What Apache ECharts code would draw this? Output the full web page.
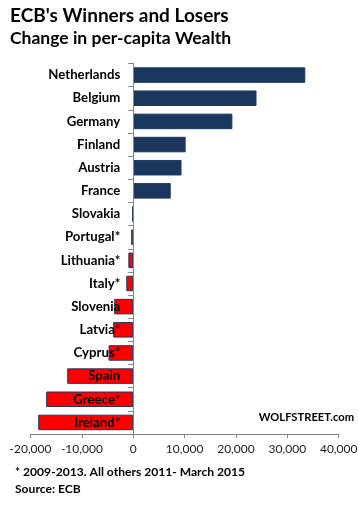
<!DOCTYPE html>
<html><head><meta charset="utf-8">
<script src="https://cdn.jsdelivr.net/npm/echarts@6/dist/echarts.min.js"></script>
<style>html,body{margin:0;padding:0;background:#fff}#c{width:359px;height:505px}</style>
</head><body><div id="c"></div>
<script>
const categories = ['Netherlands','Belgium','Germany','Finland','Austria','France','Slovakia','Portugal*','Lithuania*','Italy*','Slovenia','Latvia*','Cyprus*','Spain','Greece*','Ireland*'];
const values = [33500, 24000, 19300, 10200, 9400, 7300, -200, -400, -950, -1350, -3700, -3900, -4800, -12850, -16950, -18500];
const xTicks = {min: -20000, max: 40000, interval: 10000};
const FONT = 'Lato';
const NAVY = '#1C375E';
const GRID = {left: 30.5, right: 20.3, top: 63.5, bottom: 71};
const plotW = 359 - GRID.left - GRID.right;
const zeroOffset = plotW * (0 - xTicks.min) / (xTicks.max - xTicks.min);
const chart = echarts.init(document.getElementById('c'), null, {renderer: 'canvas'});
chart.setOption({
  animation: false,
  backgroundColor: '#fff',
  grid: Object.assign({containLabel: false, outerBoundsMode: 'none'}, GRID),
  xAxis: {
    type: 'value', min: xTicks.min, max: xTicks.max, interval: xTicks.interval,
    splitLine: {show: false},
    axisLine: {show: true, onZero: false, lineStyle: {color: '#868686', width: 1}},
    axisTick: {show: true, length: 4, lineStyle: {color: '#868686'}},
    axisLabel: {fontFamily: FONT, fontSize: 12, color: '#222', margin: 9,
      formatter: v => v.toLocaleString('en-US')}
  },
  yAxis: {
    type: 'category', data: categories, inverse: true, z: 10,
    position: 'left', offset: -zeroOffset,
    axisLine: {show: true, onZero: false, lineStyle: {color: '#868686', width: 1}},
    axisTick: {show: true, length: 5, alignWithLabel: false, lineStyle: {color: '#868686'}},
    axisLabel: {fontFamily: FONT, fontWeight: 'bold', fontSize: 13.2, color: '#000', margin: 13}
  },
  series: [{
    type: 'bar', data: values.map(v => ({value: v, itemStyle: {color: v >= 0 ? NAVY : '#FF0000'}})),
    barCategoryGap: '33%',
    itemStyle: {borderColor: NAVY, borderWidth: 1}
  }],
  graphic: [
    {type: 'text', left: 10, top: 6, style: {text: "ECB's Winners and Losers", font: 'bold 19px Lato', fill: '#000'}},
    {type: 'text', left: 10, top: 29, style: {text: 'Change in per-capita Wealth', font: 'bold 17.5px Lato', fill: '#000'}},
    {type: 'text', right: 5, top: 412, style: {text: 'WOLFSTREET.com', font: 'bold 11.2px Lato', fill: '#000'}},
    {type: 'text', left: 15, top: 466, style: {text: '* 2009-2013. All others 2011- March 2015', font: 'bold 12.1px Lato', fill: '#000'}},
    {type: 'text', left: 15, top: 483, style: {text: 'Source: ECB', font: 'bold 12.1px Lato', fill: '#000'}}
  ]
});
</script></body></html>
